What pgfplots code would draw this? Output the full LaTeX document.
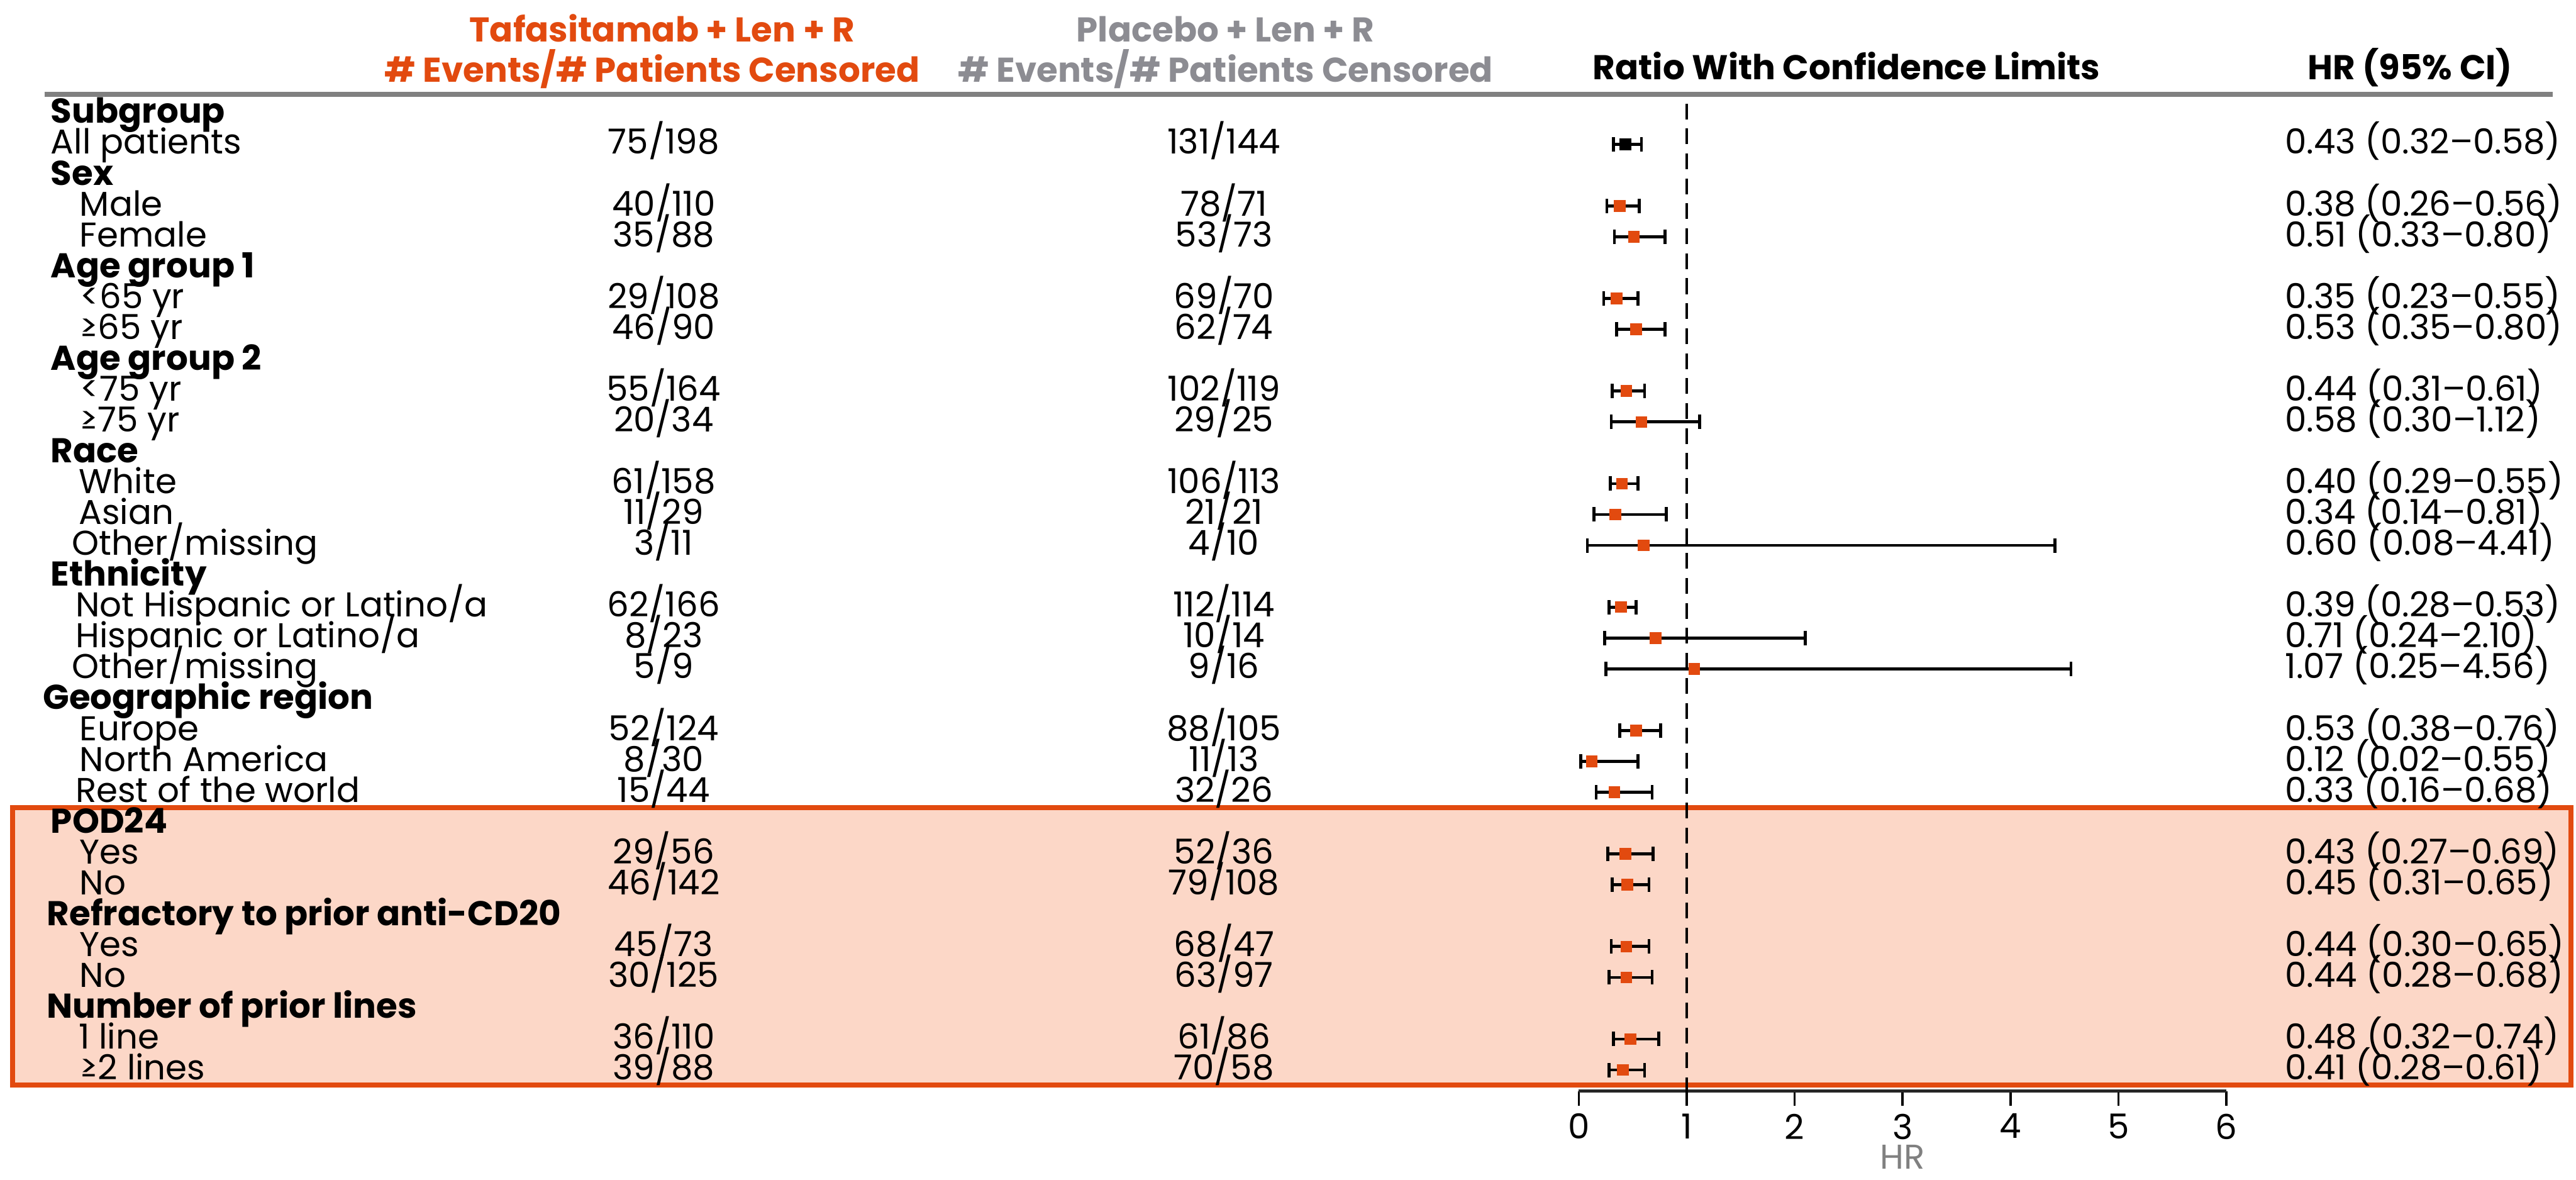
\documentclass[border=0pt]{standalone}
\usepackage{pgfplots}
\pgfplotsset{compat=1.18}
\usepackage{pgfplotstable}
\usepackage{fontspec}
\setmainfont{Poppins}
\definecolor{torange}{RGB}{226,74,15}
\definecolor{peach}{RGB}{252,215,199}
\definecolor{pgray}{RGB}{140,140,146}
\definecolor{lgray}{RGB}{128,128,128}
\newcommand{\fs}{\fontsize{14.9}{18}\selectfont}

% k = row index (row baseline at 75 + 18.78 k, in 1/4 mm units from the top)
\pgfplotstableread{
k hr lo hi
1 0.43 0.32 0.58
}\allpts
\pgfplotstableread{
k hr lo hi
3 0.38 0.26 0.56
4 0.51 0.33 0.80
6 0.35 0.23 0.55
7 0.53 0.35 0.80
9 0.44 0.31 0.61
10 0.58 0.30 1.12
12 0.40 0.29 0.55
13 0.34 0.14 0.81
14 0.60 0.08 4.41
16 0.39 0.28 0.53
17 0.71 0.24 2.10
18 1.07 0.25 4.56
20 0.53 0.38 0.76
21 0.12 0.02 0.55
22 0.33 0.16 0.68
24 0.43 0.27 0.69
25 0.45 0.31 0.65
27 0.44 0.30 0.65
28 0.44 0.28 0.68
30 0.48 0.32 0.74
31 0.41 0.28 0.61
}\subpts

\newcommand{\HD}[3]{\node[anchor=base west,font=\fs\bfseries] at (#1,#2) {#3};}
\newcommand{\RW}[6]{%
  \node[anchor=base west] at (#1,#2) {#3};
  \node[anchor=base] at (404,#2) {#4};
  \node[anchor=base] at (745,#2) {#5};
  \node[anchor=base west] at (1391,#2) {#6};}

\begin{document}
\begin{tikzpicture}
\useasboundingbox (0,0) rectangle (392mm,179.5mm);
\begin{scope}[yshift=179.5mm, x=0.25mm, y=-0.25mm,
  every node/.style={inner sep=0pt, outer sep=0pt},
  font=\fs]
  % highlighted box
  \fill[peach] (7.5,491.5) rectangle (1565,660.5);
  \draw[torange, line width=0.75mm] (7.5,491.5) rectangle (1565,660.5);
  % header rule
  \draw[lgray, line width=0.75mm] (27,57.3) -- (1554,57.3);
  % column headers
  \node[anchor=base, font=\fs\bfseries, text=torange] at (403,25.4) {Tafasitamab + Len + R};
  \node[anchor=base, font=\fs\bfseries, text=torange] at (397,50) {\# Events/\# Patients Censored};
  \node[anchor=base, font=\fs\bfseries, text=pgray] at (746,25.4) {Placebo + Len + R};
  \node[anchor=base, font=\fs\bfseries, text=pgray] at (746,50) {\# Events/\# Patients Censored};
  \node[anchor=base, font=\fs\bfseries] at (1124,48.5) {Ratio With Confidence Limits};
  \node[anchor=base, font=\fs\bfseries] at (1467,48.5) {HR (95\% CI)};
  % rows
  \HD{31}{75.00}{Subgroup}
  \RW{31}{93.78}{All patients}{75/198}{131/144}{0.43 (0.32–0.58)}
  \HD{31}{112.56}{Sex}
  \RW{48.6}{131.34}{Male}{40/110}{78/71}{0.38 (0.26–0.56)}
  \RW{48.6}{150.12}{Female}{35/88}{53/73}{0.51 (0.33–0.80)}
  \HD{31}{168.90}{Age group 1}
  \RW{49}{187.68}{<65 yr}{29/108}{69/70}{0.35 (0.23–0.55)}
  \RW{49}{206.46}{≥65 yr}{46/90}{62/74}{0.53 (0.35–0.80)}
  \HD{31}{225.24}{Age group 2}
  \RW{49}{244.02}{<75 yr}{55/164}{102/119}{0.44 (0.31–0.61)}
  \RW{49}{262.80}{≥75 yr}{20/34}{29/25}{0.58 (0.30–1.12)}
  \HD{31}{281.58}{Race}
  \RW{48}{300.36}{White}{61/158}{106/113}{0.40 (0.29–0.55)}
  \RW{48}{319.14}{Asian}{11/29}{21/21}{0.34 (0.14–0.81)}
  \RW{44}{337.92}{Other/missing}{3/11}{4/10}{0.60 (0.08–4.41)}
  \HD{31}{356.70}{Ethnicity}
  \RW{46}{375.48}{Not Hispanic or Latino/a}{62/166}{112/114}{0.39 (0.28–0.53)}
  \RW{46}{394.26}{Hispanic or Latino/a}{8/23}{10/14}{0.71 (0.24–2.10)}
  \RW{44}{413.04}{Other/missing}{5/9}{9/16}{1.07 (0.25–4.56)}
  \HD{26.2}{431.82}{Geographic region}
  \RW{48.6}{450.60}{Europe}{52/124}{88/105}{0.53 (0.38–0.76)}
  \RW{48.6}{469.38}{North America}{8/30}{11/13}{0.12 (0.02–0.55)}
  \RW{46}{488.16}{Rest of the world}{15/44}{32/26}{0.33 (0.16–0.68)}
  \HD{31}{506.94}{POD24}
  \RW{48.6}{525.72}{Yes}{29/56}{52/36}{0.43 (0.27–0.69)}
  \RW{48.6}{544.50}{No}{46/142}{79/108}{0.45 (0.31–0.65)}
  \HD{28.6}{563.28}{Refractory to prior anti-CD20}
  \RW{48.6}{582.06}{Yes}{45/73}{68/47}{0.44 (0.30–0.65)}
  \RW{48.6}{600.84}{No}{30/125}{63/97}{0.44 (0.28–0.68)}
  \HD{28.6}{619.62}{Number of prior lines}
  \RW{48}{638.40}{1 line}{36/110}{61/86}{0.48 (0.32–0.74)}
  \RW{49}{657.18}{≥2 lines}{39/88}{70/58}{0.41 (0.28–0.61)}
  % axis title
  \node[anchor=base, text=lgray] at (1158,711.5) {HR};
\end{scope}

\begin{axis}[
  at={(240.25mm,179.5mm)}, anchor=north west,
  scale only axis, width=98.55mm, height=166mm,
  xmin=0, xmax=6, ymin=-664, ymax=0,
  axis y line=none, axis x line*=bottom,
  x axis line style={line width=0.55mm, black!85},
  xtick={0,1,2,3,4,5,6},
  tick align=outside, major tick length=2.2mm,
  every tick/.style={black, line width=0.35mm},
  ytick=\empty,
  /pgf/number format/assume math mode=true,
  xticklabel style={font=\fs, inner sep=0pt, yshift=-1.2mm},
  clip=false,
]
  % reference line at HR = 1
  \draw[black, line width=0.45mm, dash pattern=on 2.4mm off 1.4mm]
    (axis cs:1,-63) -- (axis cs:1,-673);
  % confidence intervals
  \addplot[only marks, mark=none,
    error bars/.cd, x dir=both, x explicit, error mark=|,
    error bar style={draw=black, solid, line width=0.45mm},
    error mark options={draw=black, solid, line width=0.45mm, mark size=1.1mm}]
    table[x=hr, y expr={-(69+18.78*\thisrow{k})},
      x error plus expr={\thisrow{hi}-\thisrow{hr}},
      x error minus expr={\thisrow{hr}-\thisrow{lo}}] {\subpts};
  \addplot[only marks, mark=none,
    error bars/.cd, x dir=both, x explicit, error mark=|,
    error bar style={draw=black, solid, line width=0.45mm},
    error mark options={draw=black, solid, line width=0.45mm, mark size=1.1mm}]
    table[x=hr, y expr={-(69+18.78*\thisrow{k})},
      x error plus expr={\thisrow{hi}-\thisrow{hr}},
      x error minus expr={\thisrow{hr}-\thisrow{lo}}] {\allpts};
  % point estimates
  \addplot[only marks, mark=square*, mark size=0.82mm,
    mark options={draw=torange, fill=torange}]
    table[x=hr, y expr={-(69+18.78*\thisrow{k})}] {\subpts};
  \addplot[only marks, mark=square*, mark size=0.82mm,
    mark options={draw=black, fill=black}]
    table[x=hr, y expr={-(69+18.78*\thisrow{k})}] {\allpts};
\end{axis}
\end{tikzpicture}
\end{document}
